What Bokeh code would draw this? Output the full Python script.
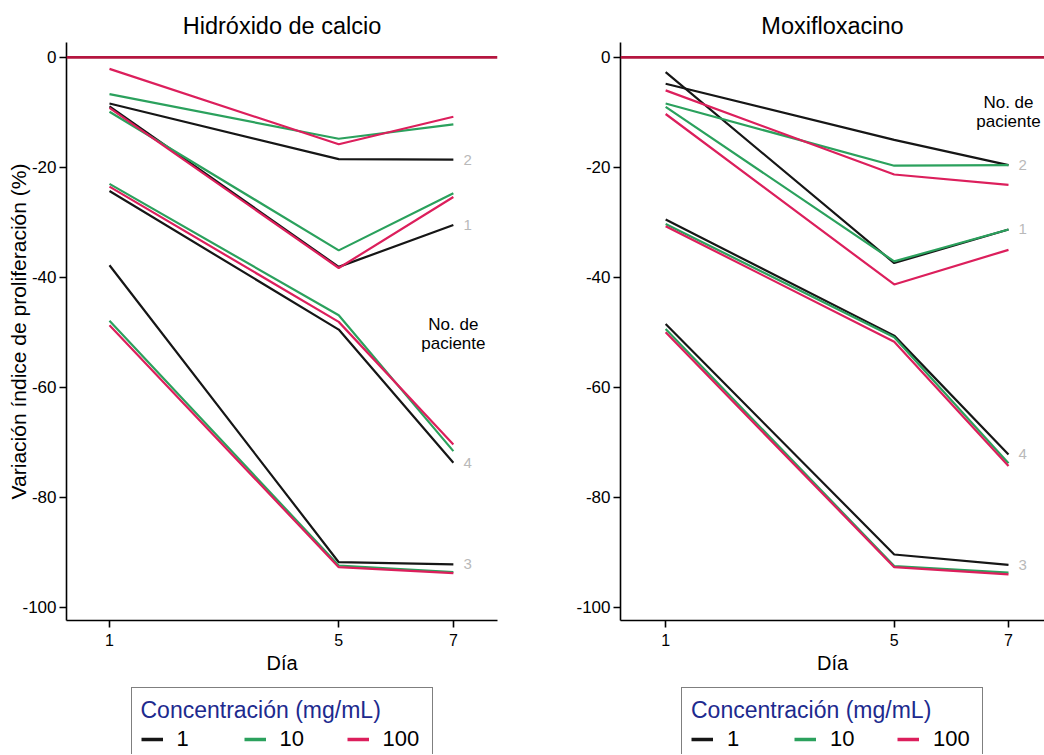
from bokeh.plotting import figure
from bokeh.models import Range1d, FixedTicker, Span, Legend, LegendItem
from bokeh.layouts import row, column
from bokeh.core.properties import value
from bokeh.embed import file_html
from bokeh.resources import INLINE

FONT = "Liberation Sans"

# ---------------- data ----------------
days = [1, 5, 7]
patients = ["1", "2", "3", "4"]
conc_labels = ["1", "10", "100"]
y_ticks = [-100, -80, -60, -40, -20, 0]
baseline = 0

# Hidróxido de calcio: one row per patient (1..4), values at days 1, 5, 7
hc_conc1 = [[-8.9, -38.1, -30.5], [-8.4, -18.5, -18.6], [-37.8, -91.8, -92.2], [-24.3, -49.5, -73.7]]
hc_conc10 = [[-9.9, -35.1, -24.7], [-6.7, -14.8, -12.2], [-47.9, -92.4, -93.6], [-23.0, -46.9, -71.6]]
hc_conc100 = [[-9.2, -38.3, -25.4], [-2.1, -15.8, -10.8], [-48.7, -92.7, -93.8], [-23.5, -48.1, -70.4]]

# Moxifloxacino
mx_conc1 = [[-2.7, -37.4, -31.3], [-4.8, -15.0, -19.6], [-48.5, -90.4, -92.3], [-29.5, -50.6, -72.2]]
mx_conc10 = [[-9.0, -37.1, -31.3], [-8.4, -19.7, -19.6], [-49.4, -92.5, -93.7], [-30.3, -50.9, -73.8]]
mx_conc100 = [[-10.3, -41.3, -35.0], [-6.0, -21.3, -23.2], [-50.0, -92.7, -94.0], [-30.7, -51.7, -74.3]]

# ---------------- style ----------------
COLORS = ["#161616", "#2ba15d", "#dc1f5c"]
ZERO_COLOR = "#b5163f"
LABEL_GREY = "#b9b9b9"
TITLE_BLUE = "#1d2a8e"
MAIN_H = 676
LEG_H = 78


def make_panel(title, series, x_start, x_end, width, border_left, border_right, ylabel, note_y):
    p = figure(width=width, height=MAIN_H, output_backend="svg", toolbar_location=None,
               x_range=Range1d(x_start, x_end), y_range=Range1d(-102.4, 2.7),
               min_border_left=border_left, min_border_right=border_right,
               min_border_top=42, min_border_bottom=0, title=title)
    p.outline_line_color = None
    p.grid.visible = False
    p.background_fill_color = "white"
    p.border_fill_color = "white"

    p.title.text_font = FONT
    p.title.text_font_size = "23.5px"
    p.title.text_font_style = "normal"
    p.title.align = "center"
    p.title.text_color = "black"
    p.title.standoff = 8

    for ax in (p.xaxis[0], p.yaxis[0]):
        ax.axis_line_color = "black"
        ax.axis_line_width = 1.6
        ax.major_tick_line_color = "black"
        ax.major_tick_line_width = 1.6
        ax.major_tick_in = 0
        ax.major_tick_out = 7
        ax.minor_tick_line_color = None
        ax.major_label_text_font = FONT
        ax.major_label_text_font_size = "17px"
        ax.major_label_text_color = "black"
        ax.axis_label_text_font = FONT
        ax.axis_label_text_font_style = "normal"
        ax.axis_label_text_color = "black"

    p.xaxis.ticker = FixedTicker(ticks=days)
    p.xaxis.major_label_overrides = {d: str(d) for d in days}
    p.xaxis.major_label_text_font_size = "16px"
    p.xaxis.major_label_standoff = 6
    p.xaxis.axis_label = "Día"
    p.xaxis.axis_label_text_font_size = "20px"
    p.xaxis.axis_label_standoff = 3

    p.yaxis.ticker = FixedTicker(ticks=y_ticks)
    p.yaxis.major_label_overrides = {t: str(t) for t in y_ticks}
    p.yaxis.major_label_standoff = 3
    if ylabel:
        p.yaxis.axis_label = ylabel
        p.yaxis.axis_label_text_font_size = "21px"
        p.yaxis.axis_label_standoff = -11

    p.add_layout(Span(location=baseline, dimension="width", line_color=ZERO_COLOR, line_width=2.6))

    for ci, conc in enumerate(series):
        for vals in conc:
            p.line(days, vals, line_color=COLORS[ci], line_width=2.2)

    black = series[0]
    p.text(x=[7.25] * len(patients), y=[v[2] for v in black], text=patients,
           text_color=LABEL_GREY, text_font=value(FONT), text_font_size="15px",
           text_align="center", text_baseline="middle")
    p.text(x=[7.0], y=[note_y], text=["No. de\npaciente"], text_color="black",
           text_font=value(FONT), text_font_size="17px", text_line_height=1.0,
           text_align="center", text_baseline="middle")
    return p


def make_legend(series, width, border_left, border_right):
    q = figure(width=width, height=LEG_H, output_backend="svg", toolbar_location=None,
               x_range=Range1d(0, 1), y_range=Range1d(0, 1),
               x_axis_type=None, y_axis_type=None,
               min_border_left=border_left, min_border_right=border_right,
               min_border_top=0, min_border_bottom=0)
    q.outline_line_color = None
    q.grid.visible = False
    # key renderers: the first patient's series of each concentration (outside the visible range)
    rends = [q.line(days, conc[0], line_color=c, line_width=3.5) for conc, c in zip(series, COLORS)]
    legend = Legend(items=[LegendItem(label=lab, renderers=[r]) for lab, r in zip(conc_labels, rends)],
                    title="Concentración (mg/mL)", orientation="horizontal", location="top_center")
    legend.title_text_font = FONT
    legend.title_text_font_size = "23px"
    legend.title_text_font_style = "normal"
    legend.title_text_color = TITLE_BLUE
    legend.title_standoff = 2
    legend.label_text_font = FONT
    legend.label_text_font_size = "22px"
    legend.label_text_color = "black"
    legend.border_line_color = "black"
    legend.border_line_width = 1.5
    legend.background_fill_color = "white"
    legend.padding = 9
    legend.margin = 11
    legend.spacing = 27
    legend.glyph_width = 22
    legend.glyph_height = 20
    legend.label_height = 20
    legend.label_width = 40
    legend.label_standoff = 14
    q.add_layout(legend)
    return q


hc_series = [hc_conc1, hc_conc10, hc_conc100]
mx_series = [mx_conc1, mx_conc10, mx_conc100]

left = make_panel("Hidróxido de calcio", hc_series,
                  0.25, 7.77, 520, 66, 23, "Variación índice de proliferación (%)", -50.3)
right = make_panel("Moxifloxacino", mx_series,
                   0.21, 7.63, 524, 100, 0, None, -10.0)
left_leg = make_legend(hc_series, 520, 66, 23)
right_leg = make_legend(mx_series, 524, 100, 0)

layout = column(row(left, right), row(left_leg, right_leg))
open("out.html", "w").write(file_html(layout, INLINE))
